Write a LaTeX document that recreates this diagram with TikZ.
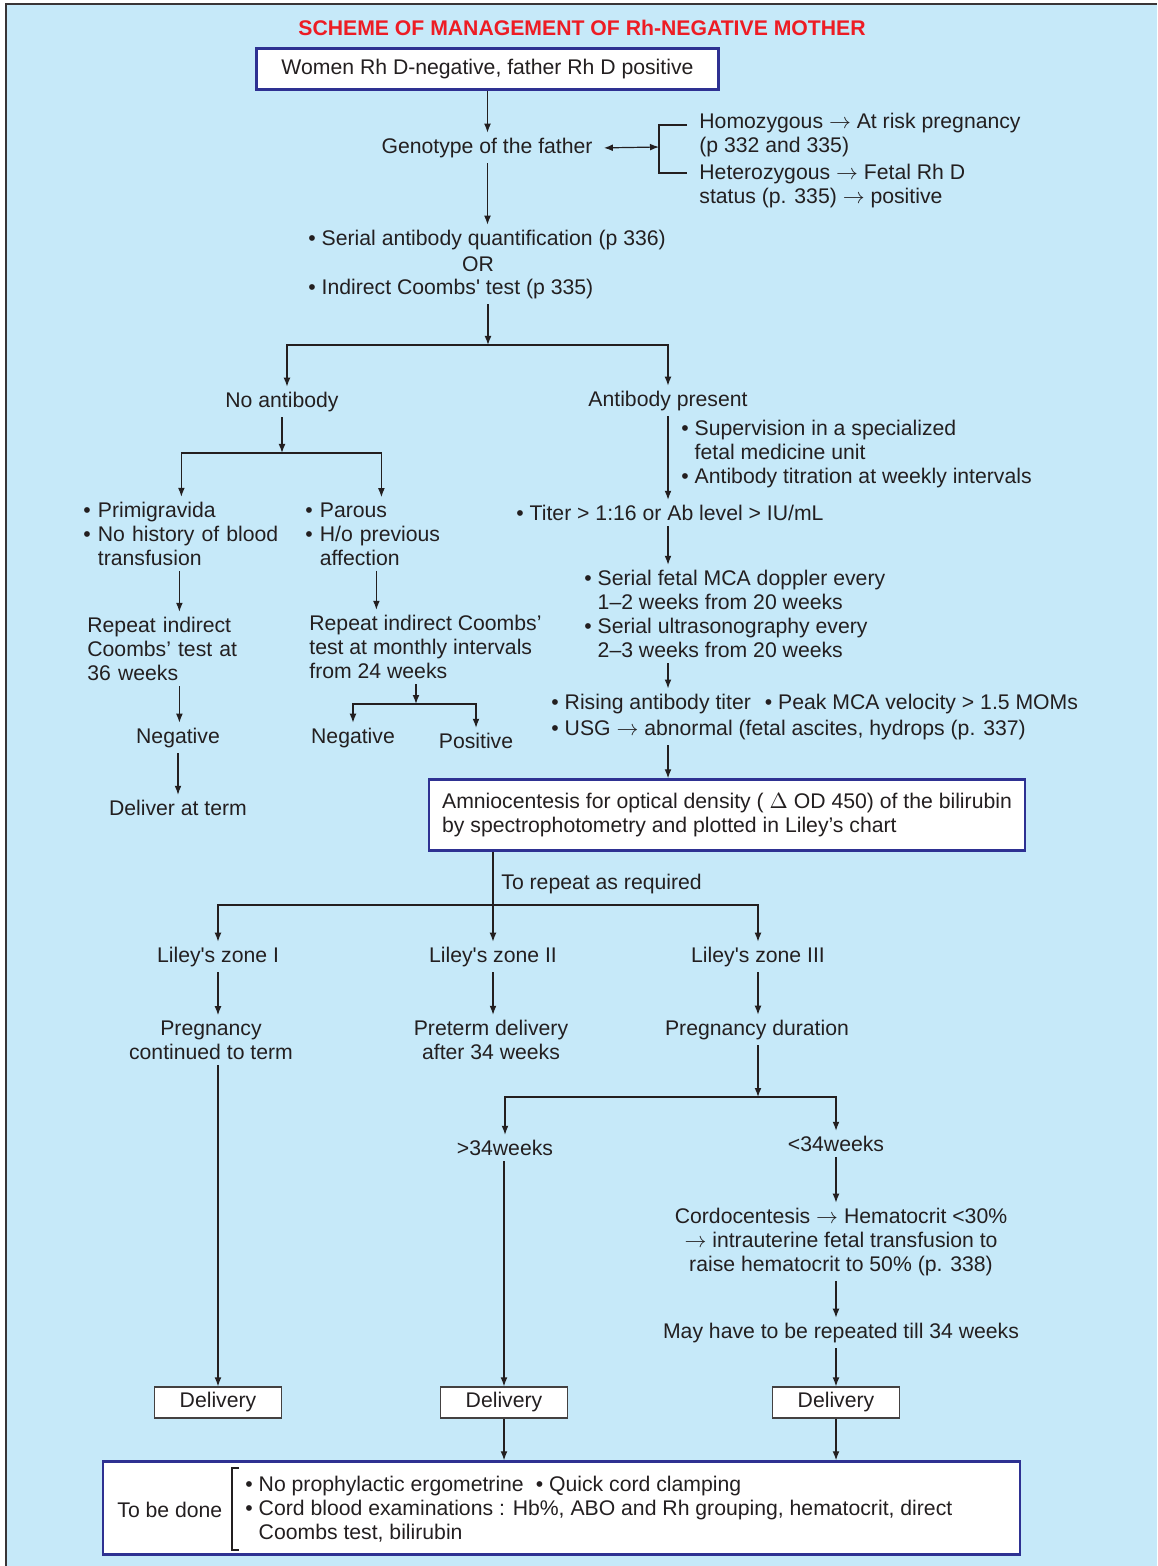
\documentclass[tikz,border=0pt]{standalone}
\usepackage{fontspec}
\setmainfont{Liberation Sans}
\usetikzlibrary{arrows.meta,calc}
\definecolor{rhSky}{HTML}{C6E9F9}
\definecolor{rhNavy}{HTML}{2E3192}
\definecolor{rhInk}{HTML}{231F20}
\definecolor{rhRed}{HTML}{ED1C24}
\tikzset{
  lbl/.style={font=\fontsize{10.6}{12}\selectfont, text=rhInk, inner sep=2.5pt},
  lft/.style={lbl, yshift=-1pt, align=left, anchor=west},
  ctr/.style={lbl, yshift=-1pt, align=center},
  navybox/.style={draw=rhNavy, line width=1.2pt, fill=white},
  delbox/.style={lbl, draw=rhInk!85, line width=0.6pt, fill=white,
    minimum width=63.5pt, minimum height=15.5pt},
  arr/.style={draw=rhInk, line width=0.6pt, -{Latex[length=4.5pt,width=3.4pt]}},
  lnk/.style={draw=rhInk, line width=0.6pt},
}

\begin{document}
\begin{tikzpicture}[x=0.5pt,y=-0.5pt]
\useasboundingbox (0,0) rectangle (1157,1566);
\fill[rhSky] (6,4) rectangle (1157,1566);
\draw[line width=1.3pt, rhInk!90] (6,1566) -- (6,4) -- (1157,4);

% Title and the father's genotype
\node[lbl, font=\fontsize{10.6}{12}\selectfont\bfseries, text=rhRed] (title) at (582,28) {SCHEME OF MANAGEMENT OF Rh-NEGATIVE MOTHER};
\node[lbl, navybox, minimum width=231pt, minimum height=20.5pt] (women) at (487.5,69) {Women Rh D-negative, father Rh D positive};
\node[ctr] (geno) at (487,146) {Genotype of the father};
\node[lft] (homo) at (694,133) {Homozygous $\rightarrow$ At risk pregnancy\\(p 332 and 335)};
\node[lft] (hetero) at (694,184) {Heterozygous $\rightarrow$ Fetal Rh D\\status (p. 335) $\rightarrow$ positive};
\coordinate (brk) at (659,147);

\node[lft] (sac) at (303,238) {• Serial antibody quantification (p 336)};
\node[ctr] (ortxt) at (478,262) {OR};
\node[lft] (ict) at (303,287) {• Indirect Coombs\textquotesingle\ test (p 335)};
\coordinate (s1) at (488,345);
\node[ctr] (noab) at (282,400) {No antibody};
\node[ctr] (abp) at (668,399) {Antibody present};

% No antibody branch
\coordinate (s2) at (282,453);
\node[lft, text width=98pt] (prim) at (78,532) {• Primigravida\\• No history of blood\\\phantom{• }transfusion};
\node[lft, text width=76pt] (parous) at (300,532) {• Parous\\• H/o previous\\\phantom{• }affection};
\node[lft, text width=92pt] (rep36) at (82,647) {Repeat indirect\\Coombs’ test at\\36 weeks};
\node[lft] (repmon) at (304,645) {Repeat indirect Coombs’\\test at monthly intervals\\from 24 weeks};
\node[ctr] (neg1) at (178,736) {Negative};
\node[ctr] (deliv) at (178,806) {Deliver at term};
\coordinate (s3) at (416,704);
\node[ctr] (neg2) at (353,736) {Negative};
\node[ctr] (pos) at (476,739) {Positive};

% Antibody present branch
\node[lft] (superv) at (676,452) {• Supervision in a specialized\\\phantom{• }fetal medicine unit\\• Antibody titration at weekly intervals};
\node[lft] (titer) at (511,511) {• Titer > 1:16 or Ab level > IU/mL};
\node[lft] (mca) at (579,612) {• Serial fetal MCA doppler every\\\phantom{• }1–2 weeks from 20 weeks\\• Serial ultrasonography every\\\phantom{• }2–3 weeks from 20 weeks};
\node[lft, font=\fontsize{10.6}{13.2}\selectfont] (rising) at (546,715) {• Rising antibody titer\hspace{7pt}• Peak MCA velocity > 1.5 MOMs\\• USG $\rightarrow$ abnormal (fetal ascites, hydrops (p. 337)};
\node[lbl, navybox, align=left, minimum width=298pt, minimum height=35.5pt] (amnio) at (727,815) {Amniocentesis for optical density ( $\Delta$ OD 450) of the bilirubin\\by spectrophotometry and plotted in Liley’s chart};

% Liley's zones
\coordinate (s4) at (493,905);
\node[lft] (torep) at (496,882) {To repeat as required};
\node[ctr] (zone1) at (218,955) {Liley\textquotesingle s zone I};
\node[ctr] (zone2) at (493,955) {Liley\textquotesingle s zone II};
\node[ctr] (zone3) at (758,955) {Liley\textquotesingle s zone III};
\node[ctr] (pct) at (211,1038) {Pregnancy\\continued to term};
\node[ctr] (ptd) at (491,1038) {Preterm delivery\\after 34 weeks};
\node[ctr] (pdur) at (757,1028) {Pregnancy duration};
\coordinate (s5) at (758,1097);
\node[ctr] (gt34) at (505,1146) {>34weeks};
\node[ctr] (lt34) at (836,1142) {<34weeks};
\node[ctr] (cordo) at (841,1240) {Cordocentesis $\rightarrow$ Hematocrit <30\%\\$\rightarrow$ intrauterine fetal transfusion to\\raise hematocrit to 50\% (p. 338)};
\node[ctr] (mayrep) at (841,1331) {May have to be repeated till 34 weeks};
\node[delbox] (del1) at (218,1402.5) {Delivery};
\node[delbox] (del2) at (504,1402.5) {Delivery};
\node[delbox] (del3) at (836,1402.5) {Delivery};

% What to do at delivery
\node[navybox, minimum width=458.5pt, minimum height=46.5pt] (tbd) at (561.5,1508) {};
\node[lft] (tbdlbl) at (112,1508) {To be done};
\node[lft] (tbdlist) at (240,1507) {• No prophylactic ergometrine\hspace{6pt}• Quick cord clamping\\• Cord blood examinations : Hb\%, ABO and Rh grouping, hematocrit, direct\\\phantom{• }Coombs test, bilirubin};

% Connectors
\draw[arr] (women.south) -- (women.south |- geno.north);
\draw[lnk, {Latex[length=4.5pt,width=3.4pt]}-{Latex[length=4.5pt,width=3.4pt]}, shorten <=3pt] (geno.east) -- (brk);
\draw[lnk] ($(homo.west)+(-7,-10)$) -| (brk) |- ($(hetero.west)+(-7,-13)$);
\draw[arr] (geno.south -| women.south) -- (sac.north -| women.south);
\draw[arr] (ict.south -| s1) -- (s1);
\draw[arr] (s1) -| ([xshift=2.5pt]noab.north);
\draw[arr] (s1) -| (abp.north);
\draw[arr] (noab) -- (s2);
\draw[arr] (s2) -| (prim.north);
\draw[arr] (s2) -| (parous.north);
\draw[arr] (prim.south -| rep36.north) -- (rep36.north);
\draw[arr] ([xshift=-2.5pt]parous.south) -- ([xshift=-2.5pt]parous.south |- repmon.north);
\draw[arr] (rep36.south) -- (neg1.north -| rep36.south);
\draw[arr] (neg1) -- (deliv);
\draw[arr] (repmon.south -| s3) -- (s3);
\draw[arr] (s3) -| (neg2.north);
\draw[arr] (s3) -| (pos.north);
\draw[arr] (abp.south) -- (abp.south |- titer.north);
\draw[arr] (titer.south -| abp) -- (mca.north -| abp);
\draw[arr] (mca.south -| abp) -- (rising.north -| abp);
\draw[arr] (rising.south -| abp) -- (amnio.north -| abp);
\draw[arr] (amnio.south -| s4) -- (zone2.north);
\draw[arr] (s4) -| (zone1.north);
\draw[arr] (s4) -| (zone3.north);
\draw[arr] (zone1) -- (zone1 |- pct.north);
\draw[arr] (zone2) -- (zone2 |- ptd.north);
\draw[arr] (zone3) -- (zone3 |- pdur.north);
\draw[arr] (pdur.south -| s5) -- (s5);
\draw[arr] (s5) -| (gt34.north);
\draw[arr] (s5) -| (lt34.north);
\draw[arr] (pct.south -| del1) -- (del1);
\draw[arr] (gt34.south -| del2) -- (del2);
\draw[arr] (lt34) -- (lt34 |- cordo.north);
\draw[arr] (cordo.south -| lt34) -- (mayrep.north -| lt34);
\draw[arr] (mayrep.south -| del3) -- (del3);
\draw[arr] (del2) -- (del2 |- tbd.north);
\draw[arr] (del3) -- (del3 |- tbd.north);
\draw[lnk] ($(tbdlist.west)+(-1,-41)$) -- ++(-7,0) -- ++(0,82) -- ++(7,0);
\end{tikzpicture}
\end{document}
